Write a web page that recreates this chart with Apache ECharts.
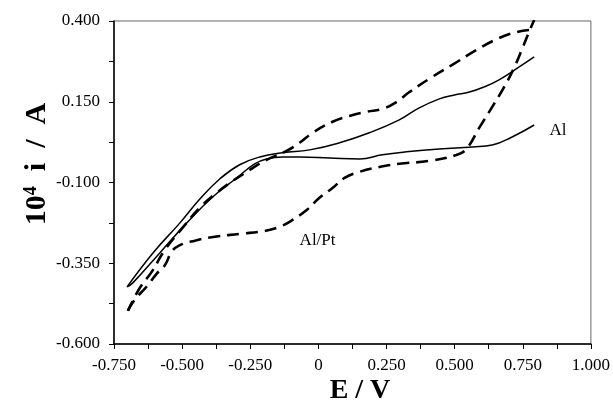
<!DOCTYPE html>
<html>
<head>
<meta charset="utf-8">
<script src="https://cdn.jsdelivr.net/npm/echarts@6/dist/echarts.min.js"></script>
<style>
  html, body { margin: 0; padding: 0; background: #fff; }
  #chart { width: 613px; height: 405px; }
</style>
</head>
<body>
<div id="chart"></div>
<script>
// Al electrode, forward (lower) branch, E / V and 10^4 i / A
var alFwdE = [-0.702, -0.680, -0.582, -0.483, -0.387, -0.300, -0.234, -0.190, -0.131, -0.069, 0.041, 0.151, 0.235, 0.323, 0.444, 0.565, 0.638, 0.711, 0.792];
var alFwdI = [-0.423, -0.410, -0.318, -0.225, -0.144, -0.086, -0.042, -0.027, -0.021, -0.021, -0.024, -0.027, -0.014, -0.005, 0.004, 0.010, 0.016, 0.041, 0.078];
// Al electrode, reverse (upper) branch
var alRevE = [0.792, 0.737, 0.663, 0.608, 0.554, 0.499, 0.444, 0.370, 0.297, 0.187, 0.078, -0.032, -0.131, -0.215, -0.289, -0.362, -0.435, -0.508, -0.607, -0.702];
var alRevI = [0.289, 0.258, 0.218, 0.196, 0.180, 0.171, 0.159, 0.131, 0.094, 0.054, 0.023, 0.001, -0.008, -0.021, -0.045, -0.089, -0.151, -0.225, -0.318, -0.423];
// Al/Pt electrode, forward branch (plateau then steep rise)
var ptFwdE = [-0.699, -0.674, -0.630, -0.593, -0.564, -0.538, -0.513, -0.453, -0.380, -0.289, -0.197, -0.142, -0.095, -0.043, 0.004, 0.052, 0.096, 0.151, 0.224, 0.297, 0.407, 0.506, 0.543, 0.590, 0.638, 0.682, 0.718, 0.751, 0.773, 0.792];
var ptFwdI = [-0.497, -0.463, -0.422, -0.382, -0.357, -0.314, -0.296, -0.280, -0.268, -0.259, -0.250, -0.237, -0.216, -0.185, -0.147, -0.117, -0.086, -0.067, -0.052, -0.042, -0.033, -0.015, 0.004, 0.069, 0.134, 0.196, 0.255, 0.320, 0.366, 0.403];
// Al/Pt electrode, reverse branch
var ptRevE = [0.773, 0.729, 0.663, 0.579, 0.491, 0.418, 0.334, 0.286, 0.235, 0.176, 0.114, 0.052, -0.021, -0.069, -0.117, -0.190, -0.252, -0.314, -0.373, -0.435, -0.501, -0.563, -0.611, -0.655, -0.699];
var ptRevI = [0.372, 0.366, 0.347, 0.310, 0.264, 0.227, 0.180, 0.149, 0.128, 0.119, 0.106, 0.088, 0.054, 0.023, -0.002, -0.030, -0.061, -0.095, -0.132, -0.178, -0.243, -0.308, -0.376, -0.426, -0.497];

// axis titles and curve labels
var xTitle = 'E / V';
var yTitle = '{a|10}{s|4}{a|  i  /  A}';
var curveLabels = ['Al', 'Al/Pt'];

function zip(xs, ys) {
  return xs.map(function (x, i) { return [x, ys[i]]; });
}

var FONT = 'Liberation Serif';
var chart = echarts.init(document.getElementById('chart'));

var solidStyle = { color: '#000', width: 1.5, type: 'solid' };
var dashStyle = { color: '#000', width: 2.6, type: [12, 7] };

function curve(name, data, style) {
  return {
    name: name,
    type: 'line',
    data: data,
    smooth: 0.45,
    showSymbol: false,
    lineStyle: style,
    silent: true
  };
}

function axisCommon() {
  return {
    axisLine: { onZero: false, lineStyle: { color: '#000', width: 1.5 } },
    axisTick: { show: true, inside: false, length: 5, lineStyle: { color: '#000' } },
    minorTick: { show: true, splitNumber: 2, length: 5, lineStyle: { color: '#000' } },
    splitLine: { show: false }
  };
}

var xAxis = Object.assign(axisCommon(), {
  type: 'value',
  min: -0.75, max: 1.0, interval: 0.25,
  axisLabel: {
    fontFamily: FONT, fontSize: 17, color: '#000', margin: 13,
    formatter: function (v) { return Math.abs(v) < 1e-9 ? '0' : v.toFixed(3); }
  }
});
var yAxis = Object.assign(axisCommon(), {
  type: 'value',
  min: -0.6, max: 0.4, interval: 0.25,
  axisLabel: {
    fontFamily: FONT, fontSize: 17, color: '#000', margin: 14,
    formatter: function (v) { return v.toFixed(3); }
  }
});

chart.setOption({
  animation: false,
  backgroundColor: '#fff',
  grid: { left: 114, right: 21, top: 21, bottom: 61, show: true, borderColor: '#666', borderWidth: 1 },
  xAxis: xAxis,
  yAxis: yAxis,
  series: [
    curve('Al forward', zip(alFwdE, alFwdI), solidStyle),
    curve('Al reverse', zip(alRevE, alRevI), solidStyle),
    curve('Al/Pt forward', zip(ptFwdE, ptFwdI), dashStyle),
    curve('Al/Pt reverse', zip(ptRevE, ptRevI), dashStyle)
  ]
});

// curve labels placed in data coordinates
var alPos = chart.convertToPixel({ gridIndex: 0 }, [0.879, 0.060]);
var ptPos = chart.convertToPixel({ gridIndex: 0 }, [-0.003, -0.280]);
chart.setOption({
  graphic: [
    { type: 'text', x: alPos[0], y: alPos[1], style: { text: curveLabels[0], font: '17px "Liberation Serif"', fill: '#000', align: 'center', verticalAlign: 'middle' } },
    { type: 'text', x: ptPos[0], y: ptPos[1], style: { text: curveLabels[1], font: '17px "Liberation Serif"', fill: '#000', align: 'center', verticalAlign: 'middle' } },
    { type: 'text', x: 360, y: 391, style: { text: xTitle, font: 'bold 28px "Liberation Serif"', fill: '#000', align: 'center', verticalAlign: 'middle' } },
    {
      type: 'text', x: 37, y: 164, rotation: Math.PI / 2,
      style: {
        text: yTitle, fill: '#000', align: 'center', verticalAlign: 'middle',
        rich: {
          a: { fontFamily: FONT, fontWeight: 'bold', fontSize: 30, fill: '#000' },
          s: { fontFamily: FONT, fontWeight: 'bold', fontSize: 18, fill: '#000', padding: [0, 0, 12, 0] }
        }
      }
    }
  ]
});
</script>
</body>
</html>
